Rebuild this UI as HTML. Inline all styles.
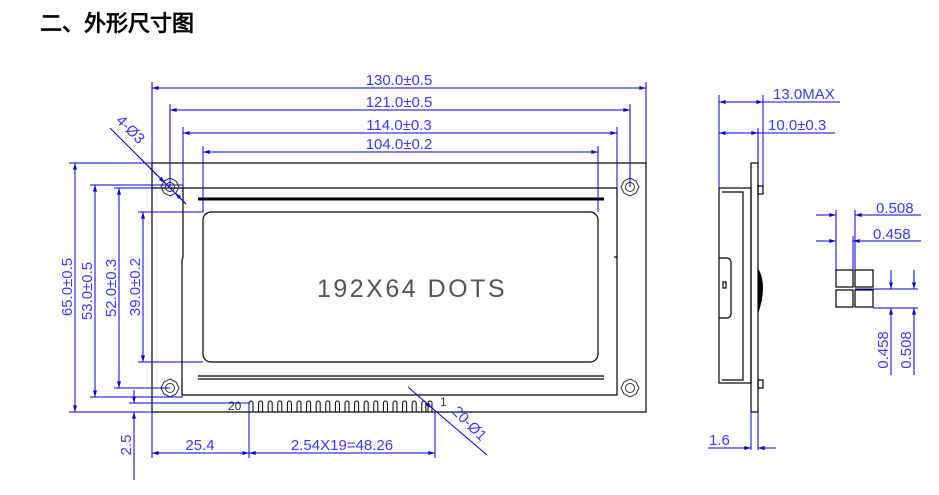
<!DOCTYPE html>
<html><head><meta charset="utf-8"><style>
body{margin:0;background:#fff;width:939px;height:490px;overflow:hidden}
svg text{font-family:"Liberation Sans",sans-serif}
</style></head><body>
<svg width="939" height="490" viewBox="0 0 939 490" xmlns="http://www.w3.org/2000/svg">
<defs>
<marker id="a" viewBox="0 0 10 6" refX="10" refY="3" markerWidth="10" markerHeight="4" orient="auto-start-reverse" markerUnits="userSpaceOnUse"><path d="M0,0L10,3L0,6z" fill="#0000e0"/></marker>
</defs>
<text x="40" y="31" font-family="'Noto Sans CJK SC',sans-serif" font-size="22" font-weight="bold" fill="#000">二、外形尺寸图</text>

<g stroke="#000" stroke-width="1.2" fill="none">
<rect x="152" y="163" width="494" height="249"/>
<line x1="152" y1="188" x2="617" y2="188"/>
<polyline points="183,188 183,257 182,260 182,395 617,395 617,188"/>
<rect x="203" y="212" width="395" height="150" rx="8"/>
<line x1="198" y1="199" x2="604" y2="199" stroke-width="3"/>
<line x1="198" y1="376" x2="604" y2="376"/><line x1="198" y1="379" x2="604" y2="379"/>
<line x1="614" y1="257" x2="617" y2="257"/>
</g>
<g stroke="#333" fill="none" stroke-width="1">
<polygon points="170,178 176,181 179,187 176,193 170,196 164,193 161,187 164,181"/><circle cx="170" cy="187" r="4.5"/>
<polygon points="630,178 636,181 639,187 636,193 630,196 624,193 621,187 624,181"/><circle cx="630" cy="187" r="4.5"/>
<polygon points="170,379 176,382 179,388 176,394 170,397 164,394 161,388 164,382"/><circle cx="170" cy="388" r="4.5"/>
<polygon points="630,379 636,382 639,388 636,394 630,397 624,394 621,388 624,382"/><circle cx="630" cy="388" r="4.5"/>
</g>
<text x="412" y="297" font-size="25" fill="#555" text-anchor="middle" letter-spacing="2.5">192X64 DOTS</text>
<g stroke="#000" fill="none" stroke-width="1">
<path d="M249,412V403a2,2 0 0 1 4,0V412 M258.6,412V403a2,2 0 0 1 4,0V412 M268.2,412V403a2,2 0 0 1 4,0V412 M277.8,412V403a2,2 0 0 1 4,0V412 M287.4,412V403a2,2 0 0 1 4,0V412 M297,412V403a2,2 0 0 1 4,0V412 M306.6,412V403a2,2 0 0 1 4,0V412 M316.2,412V403a2,2 0 0 1 4,0V412 M325.8,412V403a2,2 0 0 1 4,0V412 M335.4,412V403a2,2 0 0 1 4,0V412 M345,412V403a2,2 0 0 1 4,0V412 M354.6,412V403a2,2 0 0 1 4,0V412 M364.2,412V403a2,2 0 0 1 4,0V412 M373.8,412V403a2,2 0 0 1 4,0V412 M383.4,412V403a2,2 0 0 1 4,0V412 M393,412V403a2,2 0 0 1 4,0V412 M402.6,412V403a2,2 0 0 1 4,0V412 M412.2,412V403a2,2 0 0 1 4,0V412 M421.8,412V403a2,2 0 0 1 4,0V412 M428,412V403a2,2 0 0 1 4,0V412"/>
</g>
<text x="228" y="410" font-size="12" fill="#333">20</text>
<text x="440" y="406" font-size="12" fill="#333">1</text>

<g stroke="#0000e0" stroke-width="1" fill="none">
<line x1="152" y1="82" x2="152" y2="163"/><line x1="646" y1="82" x2="646" y2="163"/>
<line x1="152" y1="88" x2="646" y2="88" marker-start="url(#a)" marker-end="url(#a)"/>
<line x1="170" y1="104" x2="170" y2="187"/><line x1="630" y1="104" x2="630" y2="187"/>
<line x1="170" y1="110" x2="630" y2="110" marker-start="url(#a)" marker-end="url(#a)"/>
<line x1="183" y1="127" x2="183" y2="188"/><line x1="617" y1="127" x2="617" y2="188"/>
<line x1="183" y1="133" x2="617" y2="133" marker-start="url(#a)" marker-end="url(#a)"/>
<line x1="203" y1="146" x2="203" y2="212"/><line x1="598" y1="146" x2="598" y2="212"/>
<line x1="203" y1="152" x2="598" y2="152" marker-start="url(#a)" marker-end="url(#a)"/>
<line x1="110" y1="128" x2="186" y2="204"/>
<line x1="140" y1="158" x2="165" y2="183" marker-end="url(#a)"/>
<line x1="186" y1="204" x2="175" y2="193" marker-end="url(#a)"/>
<line x1="69" y1="163" x2="152" y2="163"/><line x1="69" y1="412" x2="152" y2="412"/>
<line x1="75" y1="163" x2="75" y2="412" marker-start="url(#a)" marker-end="url(#a)"/>
<line x1="90" y1="185" x2="183" y2="185"/><line x1="90" y1="397" x2="183" y2="397"/>
<line x1="95" y1="185" x2="95" y2="397" marker-start="url(#a)" marker-end="url(#a)"/>
<line x1="114" y1="188" x2="152" y2="188"/><line x1="114" y1="388" x2="170" y2="388"/>
<line x1="119" y1="188" x2="119" y2="388" marker-start="url(#a)" marker-end="url(#a)"/>
<line x1="138" y1="212" x2="203" y2="212"/><line x1="138" y1="362" x2="203" y2="362"/>
<line x1="143" y1="212" x2="143" y2="362" marker-start="url(#a)" marker-end="url(#a)"/>
<line x1="129" y1="403" x2="249" y2="403"/>
<line x1="134" y1="390" x2="134" y2="403" marker-end="url(#a)"/>
<line x1="134" y1="425" x2="134" y2="412" marker-end="url(#a)"/>
<line x1="134" y1="412" x2="134" y2="480"/>
<line x1="152" y1="412" x2="152" y2="458"/><line x1="249" y1="406" x2="249" y2="458"/><line x1="435" y1="412" x2="435" y2="458"/>
<line x1="152" y1="453" x2="249" y2="453" marker-start="url(#a)" marker-end="url(#a)"/>
<line x1="249" y1="453" x2="435" y2="453" marker-start="url(#a)" marker-end="url(#a)"/>
<line x1="408" y1="387" x2="432" y2="408" marker-end="url(#a)"/>
<line x1="432" y1="408" x2="487" y2="455"/>
</g>
<g fill="#3a3aff" font-size="15">
<text x="399" y="85" text-anchor="middle">130.0±0.5</text>
<text x="399" y="107" text-anchor="middle">121.0±0.5</text>
<text x="399" y="130" text-anchor="middle">114.0±0.3</text>
<text x="399" y="149" text-anchor="middle">104.0±0.2</text>
<text x="200" y="450" text-anchor="middle">25.4</text>
<text x="342" y="450" text-anchor="middle">2.54X19=48.26</text>
<text transform="translate(72,287) rotate(-90)" text-anchor="middle">65.0±0.5</text>
<text transform="translate(92,291) rotate(-90)" text-anchor="middle">53.0±0.5</text>
<text transform="translate(116,288) rotate(-90)" text-anchor="middle">52.0±0.3</text>
<text transform="translate(140,287) rotate(-90)" text-anchor="middle">39.0±0.2</text>
<text transform="translate(131,445) rotate(-90)" text-anchor="middle">2.5</text>
<text transform="translate(127,133) rotate(45)" text-anchor="middle">4-Ø3</text>
<text transform="translate(466,427) rotate(45)" text-anchor="middle">20-Ø1</text>
</g>

<g stroke="#000" stroke-width="1.2" fill="none">
<rect x="751" y="163" width="7" height="249"/>
<rect x="719" y="188" width="32" height="195"/>
<polyline points="722,192 743,192 743,380 722,380"/>
<path d="M719,258H727a4,4 0 0 1 4,4V314a4,4 0 0 1 -4,4H719"/>
<rect x="723" y="282" width="3" height="6"/>
<rect x="758" y="186" width="5" height="8"/><rect x="758" y="380" width="5" height="8"/>
</g>
<path d="M758,268 Q768,285 758,314 Z" fill="#000"/>
<g stroke="#0000e0" stroke-width="1" fill="none">
<line x1="719" y1="95" x2="719" y2="188"/>
<line x1="763" y1="95" x2="763" y2="186"/>
<line x1="719" y1="102" x2="763" y2="102" marker-start="url(#a)" marker-end="url(#a)"/>
<line x1="763" y1="102" x2="840" y2="102"/>
<line x1="758" y1="128" x2="758" y2="163"/>
<line x1="719" y1="133" x2="758" y2="133" marker-start="url(#a)" marker-end="url(#a)"/>
<line x1="758" y1="133" x2="835" y2="133"/>
<line x1="751" y1="412" x2="751" y2="450"/><line x1="758" y1="412" x2="758" y2="450"/>
<line x1="708" y1="448" x2="751" y2="448" marker-end="url(#a)"/>
<line x1="776" y1="448" x2="758" y2="448" marker-end="url(#a)"/>
<line x1="836" y1="210" x2="836" y2="270"/><line x1="855" y1="210" x2="855" y2="270"/><line x1="853" y1="236" x2="853" y2="270"/>
<line x1="816" y1="215" x2="836" y2="215" marker-end="url(#a)"/>
<line x1="875" y1="215" x2="855" y2="215" marker-end="url(#a)"/><line x1="855" y1="215" x2="921" y2="215"/>
<line x1="816" y1="241" x2="836" y2="241" marker-end="url(#a)"/>
<line x1="873" y1="241" x2="853" y2="241" marker-end="url(#a)"/><line x1="853" y1="241" x2="921" y2="241"/>
<line x1="873" y1="308" x2="918" y2="308"/><line x1="855" y1="289" x2="918" y2="289"/>
<line x1="891" y1="270" x2="891" y2="289" marker-end="url(#a)"/>
<line x1="891" y1="328" x2="891" y2="308" marker-end="url(#a)"/><line x1="891" y1="308" x2="891" y2="375"/>
<line x1="914" y1="270" x2="914" y2="289" marker-end="url(#a)"/>
<line x1="914" y1="328" x2="914" y2="308" marker-end="url(#a)"/><line x1="914" y1="308" x2="914" y2="375"/>
</g>
<g stroke="#000" stroke-width="1.2" fill="none">
<rect x="836" y="270" width="17" height="17"/><rect x="855" y="270" width="18" height="17"/>
<rect x="836" y="290" width="17" height="17"/><rect x="855" y="290" width="18" height="17"/>
</g>
<g fill="#3a3aff" font-size="15">
<text x="773" y="99">13.0MAX</text>
<text x="768" y="130">10.0±0.3</text>
<text x="709" y="445">1.6</text>
<text x="876" y="213">0.508</text>
<text x="873" y="239">0.458</text>
<text transform="translate(888,350) rotate(-90)" text-anchor="middle">0.458</text>
<text transform="translate(911,350) rotate(-90)" text-anchor="middle">0.508</text>
</g>
</svg>
</body></html>
